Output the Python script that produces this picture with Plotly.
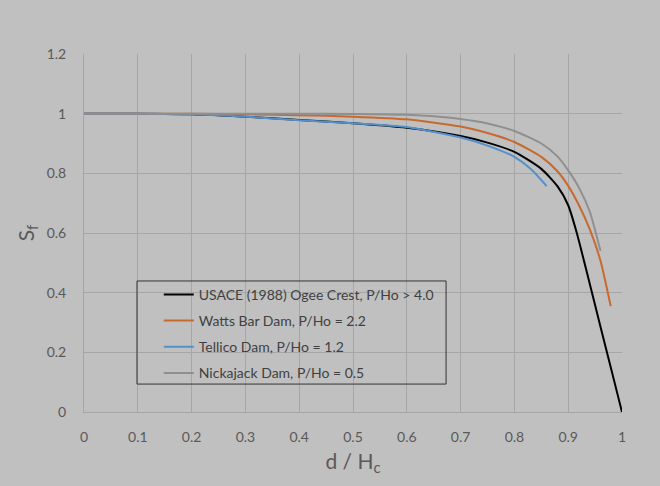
import plotly.graph_objects as go

# ---- data ----
x_usace = [0, 0.1, 0.2, 0.3, 0.4, 0.5, 0.6, 0.7, 0.75, 0.8, 0.85, 0.88, 0.9, 0.916, 0.94, 0.96, 0.98, 1.0]
s_usace = [1.0, 1.0, 0.998, 0.99, 0.979, 0.968, 0.953, 0.925, 0.903, 0.872, 0.815, 0.757, 0.693, 0.60, 0.43, 0.286, 0.143, 0.0]

x_watts = [0, 0.1, 0.2, 0.3, 0.4, 0.5, 0.6, 0.7, 0.75, 0.8, 0.85, 0.88, 0.9, 0.92, 0.94, 0.96, 0.979]
s_watts = [1.0, 1.0, 1.0, 0.998, 0.995, 0.99, 0.981, 0.957, 0.935, 0.905, 0.855, 0.807, 0.758, 0.693, 0.613, 0.507, 0.355]

x_tellico = [0, 0.1, 0.2, 0.3, 0.4, 0.5, 0.6, 0.7, 0.75, 0.8, 0.83, 0.86]
s_tellico = [1.0, 1.0, 0.998, 0.99, 0.978, 0.968, 0.955, 0.92, 0.893, 0.855, 0.815, 0.757]

x_nick = [0, 0.1, 0.2, 0.3, 0.4, 0.5, 0.6, 0.65, 0.7, 0.75, 0.8, 0.85, 0.88, 0.9, 0.92, 0.94, 0.96]
s_nick = [1.0, 1.0, 1.0, 1.0, 1.0, 0.999, 0.996, 0.991, 0.982, 0.967, 0.942, 0.9, 0.857, 0.81, 0.752, 0.672, 0.54]

names = ["USACE (1988) Ogee Crest, P/Ho > 4.0", "Watts Bar Dam, P/Ho = 2.2",
         "Tellico Dam, P/Ho = 1.2", "Nickajack Dam, P/Ho = 0.5"]
colors = ["#000000", "#C8692D", "#5490CB", "#8F8F8F"]

x_ticks = [0, 0.1, 0.2, 0.3, 0.4, 0.5, 0.6, 0.7, 0.8, 0.9, 1.0]
x_ticklabels = ["0", "0.1", "0.2", "0.3", "0.4", "0.5", "0.6", "0.7", "0.8", "0.9", "1"]
y_ticks = [0, 0.2, 0.4, 0.6, 0.8, 1.0, 1.2]
y_ticklabels = ["0", "0.2", "0.4", "0.6", "0.8", "1", "1.2"]

BG = "#C0C0C0"
GRID = "#A6A6A6"
TXT = "#595959"
FONT = "Lato"

fig = go.Figure()
series = [(x_usace, s_usace), (x_watts, s_watts), (x_tellico, s_tellico), (x_nick, s_nick)]
for i, ((xs, ys), nm, col) in enumerate(zip(series, names, colors)):
    fig.add_trace(go.Scatter(x=xs, y=ys, mode="lines", name=nm, legendgroup=f"g{i}",
                             line=dict(color=col, width=2, shape="spline", smoothing=0.6)))

fig.add_shape(type="rect", xref="paper", yref="paper",
              x0=0.0985, x1=0.673, y0=0.078, y1=0.366,
              line=dict(color="#333333", width=1), fillcolor="rgba(0,0,0,0)", layer="above")

fig.update_layout(
    width=660, height=486,
    margin=dict(l=84, r=38, t=54, b=74),
    paper_bgcolor=BG, plot_bgcolor=BG,
    font=dict(family=FONT, color=TXT, size=13),
    showlegend=True,
    legend=dict(x=0.139, y=0.372, xanchor="left", yanchor="top",
                bgcolor="rgba(0,0,0,0)", borderwidth=0,
                font=dict(family=FONT, size=14, color="#404040"),
                tracegroupgap=5, traceorder="grouped"),
    xaxis=dict(range=[0, 1.0], tickvals=x_ticks, ticktext=x_ticklabels,
               showgrid=True, gridcolor=GRID, gridwidth=1, zeroline=False,
               showline=True, linecolor=GRID, linewidth=1,
               ticks="", ticklabelstandoff=12,
               tickfont=dict(size=14, color=TXT, family=FONT),
               title=dict(text="d / H<sub>c</sub>", font=dict(size=21, color=TXT, family=FONT), standoff=10)),
    yaxis=dict(range=[0, 1.2], tickvals=y_ticks, ticktext=y_ticklabels,
               showgrid=True, gridcolor=GRID, gridwidth=1, zeroline=False,
               showline=True, linecolor=GRID, linewidth=1,
               ticks="", ticklabelstandoff=14,
               tickfont=dict(size=14, color=TXT, family=FONT),
               title=dict(text="S<sub>f</sub>", font=dict(size=21, color=TXT, family=FONT), standoff=6)),
)

fig.write_html("out.html")
